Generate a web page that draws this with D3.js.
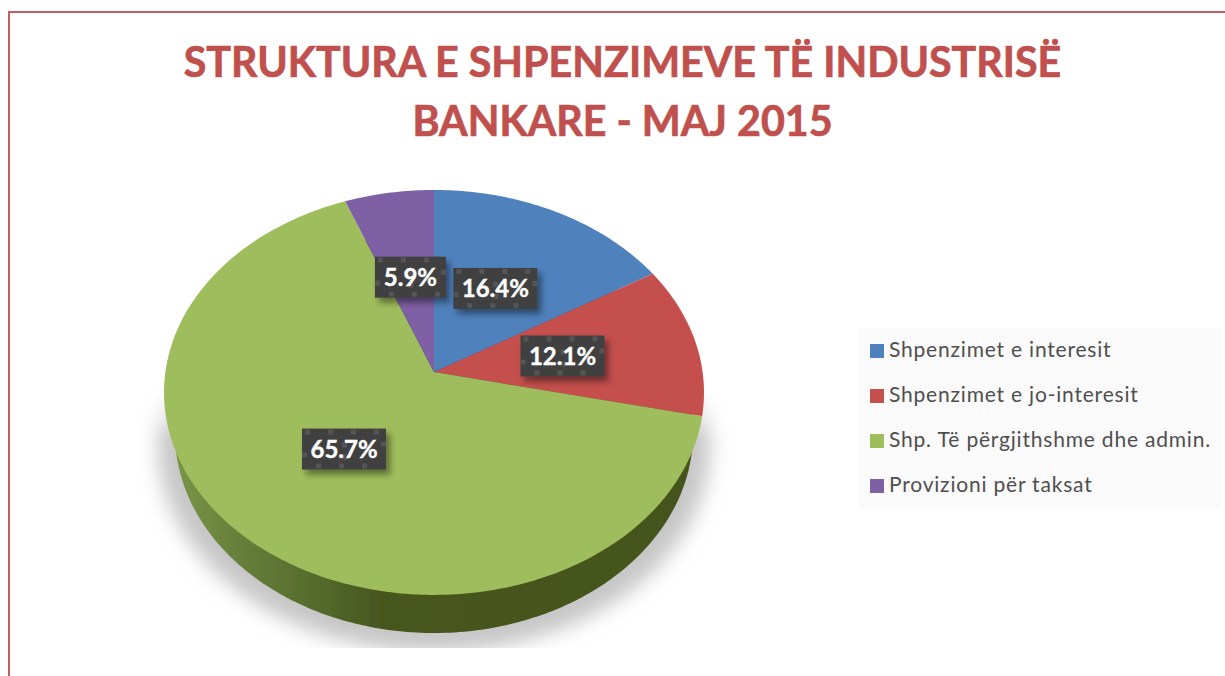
<!DOCTYPE html>
<html><head><meta charset="utf-8">
<style>html,body{margin:0;padding:0;background:#fff}svg{display:block}text{font-family:Lato,"Open Sans",sans-serif}</style>
<script src="https://cdn.jsdelivr.net/npm/d3@7"></script></head><body>
<svg id="c" width="1225" height="676"></svg>
<script>
const titleLines = ["STRUKTURA E SHPENZIMEVE TË INDUSTRISË", "BANKARE - MAJ 2015"];
const categories = ["Shpenzimet e interesit", "Shpenzimet e jo-interesit", "Shp. Të përgjithshme dhe admin.", "Provizioni për taksat"];
const values = [16.4, 12.1, 65.7, 5.9];
const colors = ["#4f81bd", "#c4504e", "#9ebd5b", "#7f60a4"];
const wallColors = ["#2f4d71", "#762f2e", "#4a5a24", "#4d3a62"];

const svg = d3.select("#c"), defs = svg.append("defs");
const P = 0.101;
const top_ = {x: d3.scaleLinear().domain([-1, 1]).range([434 - 268.6, 434 + 268.6]), y: d3.scaleLinear().domain([-1, 1]).range([372 - 200.4, 372 + 200.4])};
const low_ = {x: d3.scaleLinear().domain([-1, 1]).range([434 - 257.7, 434 + 257.7]), y: d3.scaleLinear().domain([-1, 1]).range([413 - 197.8, 413 + 197.8])};
const project = (rim, a, f = 1) => {
  const x = f * Math.sin(a), y = -f * Math.cos(a), w = 1 - P * y;
  return [rim.x(x / w), rim.y(y / w)];
};
const line = d3.line();
const slicePath = (rim, d) => {
  const n = Math.max(2, Math.ceil((d.endAngle - d.startAngle) * 60));
  const pts = d3.range(n + 1).map(i => project(rim, d.startAngle + (d.endAngle - d.startAngle) * i / n));
  return line([project(rim, 0, 0), ...pts]) + "Z";
};
const arcs = d3.pie().sort(null)(values);

// frame
svg.append("path").attr("d", "M9 676V12H1225").attr("fill", "none").attr("stroke", "#c95c5e").attr("stroke-width", 2);

// title
svg.selectAll("text.title").data(titleLines).join("text").attr("class", "title")
  .attr("x", 622.5).attr("y", (d, i) => 77 + i * 58.5).attr("text-anchor", "middle")
  .attr("font-size", 41.2).attr("font-weight", 700).attr("fill", "#c0504d")
  .attr("stroke", "#c0504d").attr("stroke-width", 0.7).text(d => d);

// shadow
const blur = defs.append("filter").attr("id", "blur").attr("x", "-20%").attr("y", "-20%").attr("width", "140%").attr("height", "140%");
blur.append("feGaussianBlur").attr("stdDeviation", 10);
const fade = defs.append("linearGradient").attr("id", "fade").attr("gradientUnits", "userSpaceOnUse").attr("x1", 0).attr("x2", 0).attr("y1", 385).attr("y2", 440);
fade.append("stop").attr("offset", 0).attr("stop-color", "#000");
fade.append("stop").attr("offset", 1).attr("stop-color", "#fff");
defs.append("mask").attr("id", "smask").attr("maskUnits", "userSpaceOnUse").attr("x", 0).attr("y", 0).attr("width", 1225).attr("height", 648)
  .append("rect").attr("width", 1225).attr("height", 648).attr("fill", "url(#fade)");
svg.append("g").attr("mask", "url(#smask)").append("ellipse")
  .attr("cx", 434).attr("cy", 446).attr("rx", 276).attr("ry", 206).attr("fill", "#c6c6c6").attr("filter", "url(#blur)");

// wall
const wg = defs.append("linearGradient").attr("id", "wall").attr("gradientUnits", "userSpaceOnUse").attr("x1", 170).attr("x2", 700).attr("y1", 0).attr("y2", 0);
[[0, "#7a9848"], [0.13, "#667f3a"], [0.25, "#586f2e"], [0.4, "#47561f"], [1, "#44531e"]].forEach(s => wg.append("stop").attr("offset", s[0]).attr("stop-color", s[1]));
svg.append("g").attr("filter", "url(#soft)").selectAll("path").data(arcs).join("path")
  .attr("d", d => slicePath(low_, d))
  .attr("fill", (d, i) => i === 2 ? "url(#wall)" : wallColors[i]);

// top face
const soft = defs.append("filter").attr("id", "soft").attr("x", "-5%").attr("y", "-5%").attr("width", "110%").attr("height", "110%");
soft.append("feGaussianBlur").attr("stdDeviation", 0.6);
svg.append("g").attr("filter", "url(#soft)").selectAll("path").data(arcs).join("path")
  .attr("d", d => slicePath(top_, d))
  .attr("fill", (d, i) => colors[i]);

// labels
const ds = defs.append("filter").attr("id", "ds").attr("x", "-20%").attr("y", "-20%").attr("width", "150%").attr("height", "160%");
ds.append("feDropShadow").attr("dx", 4).attr("dy", 5).attr("stdDeviation", 3).attr("flood-color", "#000").attr("flood-opacity", 0.42);
const labelNudge = [[-2, 0], [-3, 0], [1, -2], [0, -1]];
const labelFmt = d3.format(".1f");
const lab = svg.append("g").selectAll("g").data(arcs).join("g").attr("transform", (d, i) => {
  const p = project(top_, (d.startAngle + d.endAngle) / 2, 0.5);
  return `translate(${p[0] + labelNudge[i][0]},${p[1] + labelNudge[i][1]})`;
});
const labW = i => i === 3 ? 71 : 84, labH = 41;
lab.append("rect").attr("x", (d, i) => -labW(i) / 2).attr("y", -labH / 2).attr("width", (d, i) => labW(i)).attr("height", labH)
  .attr("fill", "#404040").attr("filter", "url(#ds)");
lab.each(function (d, i) {
  const g = d3.select(this), w = labW(i), x0 = -w / 2, y0 = -labH / 2, dots = [];
  d3.range(3, w - 4, 23).forEach(o => dots.push([x0 + o, y0 + 1]));
  d3.range(14, w - 4, 23).forEach(o => dots.push([x0 + o, y0 + labH - 6]));
  dots.push([x0, y0 + 24], [x0 + w - 5, y0 + 13], [x0 + w / 2 - 2, y0 + 14], [x0 + w / 2 - 2, y0 + 26]);
  g.selectAll("rect.dot").data(dots).join("rect").attr("class", "dot")
    .attr("x", p => p[0]).attr("y", p => p[1]).attr("width", 5).attr("height", 5).attr("fill", "#555555");
});
lab.append("text").attr("text-anchor", "middle").attr("y", 9).attr("font-size", 24).attr("font-weight", 700)
  .attr("fill", "#fff").attr("stroke", "#fff").attr("stroke-width", 0.4)
  .text(d => labelFmt(d.value) + "%");

// legend
svg.append("rect").attr("x", 858).attr("y", 328).attr("width", 364).attr("height", 180).attr("fill", "#fafafa");
const y = d3.scalePoint().domain(categories).range([351, 486]);
const leg = svg.append("g").selectAll("g").data(categories).join("g").attr("transform", d => `translate(870,${y(d)})`);
leg.append("rect").attr("y", -7).attr("width", 14).attr("height", 14).attr("fill", (d, i) => colors[i]);
leg.append("text").attr("x", 19).attr("y", 6).attr("font-size", 21).attr("letter-spacing", 0.8).attr("fill", "#4f4f4f").text(d => d);
</script></body></html>
